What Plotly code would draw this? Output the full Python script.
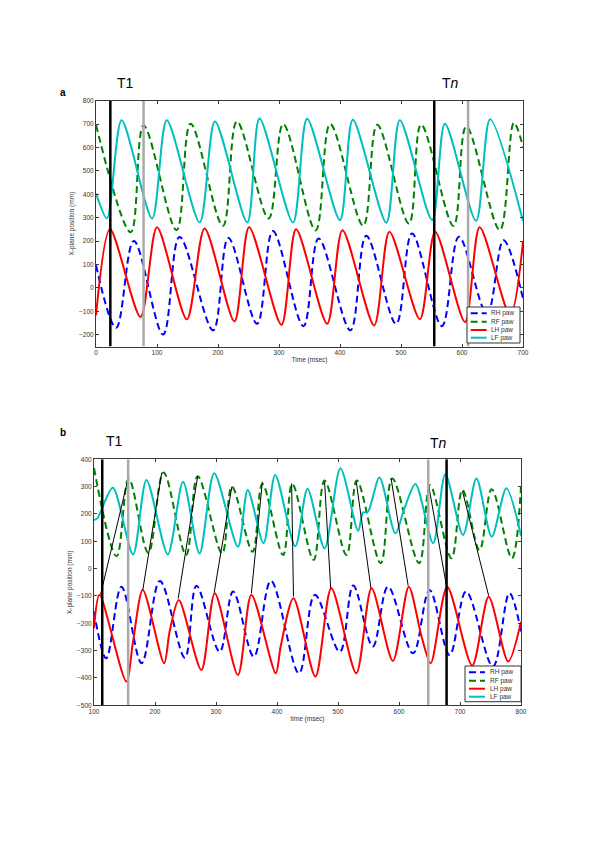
import plotly.graph_objects as go

W, H = 600, 848

# ---------------- Panel a data (time in msec, position in mm) ----------------
a_rh_t = [0, 33, 62, 110, 137, 192, 217, 264, 290, 340, 365, 417, 443, 492, 518, 567, 595, 641, 668, 700]
a_rh_v = [97, -170, 201, -199, 218, -181, 214, -153, 243, -163, 211, -181, 223, -153, 233, -163, 219, -110, 204, -46]

a_rf_t = [0, 57, 78, 132, 155, 208, 231, 283, 307, 360, 384, 438, 461, 513, 533, 586, 607, 662, 685, 700]
a_rf_v = [697, 238, 695, 247, 702, 265, 711, 297, 700, 246, 700, 266, 697, 275, 698, 265, 690, 247, 705, 603]

a_lh_t = [0, 23, 73, 100, 149, 178, 227, 251, 304, 328, 379, 404, 456, 481, 531, 556, 605, 629, 679, 700]
a_lh_v = [-117, 251, -124, 259, -134, 254, -143, 259, -157, 251, -153, 247, -160, 240, -134, 240, -146, 259, -117, 197]

a_lf_t = [0, 18, 42, 92, 116, 170, 195, 248, 268, 323, 346, 400, 421, 476, 498, 551, 572, 623, 646, 700]
a_lf_v = [404, 298, 716, 297, 716, 280, 711, 280, 724, 280, 723, 290, 719, 279, 717, 290, 702, 287, 721, 286]

a_black_t = [23.5, 554.5]
a_gray_t = [78, 610]

# ---------------- Panel b data ----------------
b_rh_t = [100, 120, 145, 178, 208, 249, 268, 306, 328, 362, 390, 436, 462, 503, 525, 557, 582, 623, 650, 683, 710, 754, 781, 800]
b_rh_v = [-157, -328, -66, -346, -45, -326, -63, -304, -84, -322, -45, -383, -96, -304, -62, -285, -66, -310, -78, -316, -84, -358, -90, -230]

b_rf_t = [100, 137, 157, 189, 214, 251, 270, 310, 326, 360, 376, 410, 425, 460, 478, 514, 531, 570, 589, 633, 651, 686, 704, 732, 752, 785, 800]
b_rf_v = [368, 45, 330, 58, 352, 50, 338, 56, 300, 62, 310, 50, 310, 32, 322, 50, 322, 20, 330, 20, 305, 38, 288, 68, 290, 38, 300]

b_lh_t = [100, 109, 153, 164, 180, 215, 224, 239, 276, 298, 336, 358, 398, 406, 427, 463, 489, 530, 555, 590, 616, 637, 652, 679, 720, 747, 779, 800]
b_lh_v = [-218, -96, -413, -267, -78, -346, -230, -115, -371, -90, -389, -96, -383, -285, -108, -395, -72, -383, -72, -338, -66, -249, -346, -66, -355, -103, -340, -194]

b_lf_t = [100, 106, 112, 131, 164, 186, 221, 246, 273, 297, 336, 352, 378, 397, 430, 450, 478, 504, 533, 541, 549, 568, 594, 609, 627, 656, 676, 705, 727, 752, 776, 800]
b_lf_v = [178, 185, 215, 296, 52, 324, 52, 318, 55, 349, 80, 288, 93, 343, 82, 292, 74, 367, 138, 205, 208, 333, 129, 221, 310, 93, 345, 123, 330, 117, 294, 120]

b_black_t = [113.5, 678]
b_gray_t = [156, 648]

# links LH peak -> RF peak
link_lh_t = [111, 180, 238, 297, 358, 427, 488, 554, 615, 678, 747]
link_lh_v = [-93, -78, -109, -88, -90, -102, -72, -72, -62, -66, -99]
link_rf_t = [156, 211, 270, 326, 376, 424, 478, 530, 587, 649, 704]
link_rf_v = [330, 351, 339, 300, 318, 312, 318, 318, 330, 300, 284]

series_names = ["RH paw", "RF paw", "LH paw", "LF paw"]
series_colors = ["#0000FF", "#008000", "#FF0000", "#00BFBF"]
series_dash = ["7px,4px", "7px,4px", "solid", "solid"]
series_smooth = [1.0, 1.0, 0.8, 0.8]

a_range_x = [0, 700]
a_range_y = [-250, 800]
b_range_x = [100, 800]
b_range_y = [-500, 400]

FONT = "Liberation Sans, Arial, sans-serif"

fig = go.Figure()

def add_panel(data, xa, ya):
    for (t, v), name, col, dash, sm in zip(data, series_names, series_colors, series_dash, series_smooth):
        fig.add_trace(go.Scatter(x=t, y=v, mode="lines", name=name, showlegend=False,
                                 line=dict(color=col, width=2, dash=dash, shape="spline", smoothing=sm),
                                 xaxis=xa, yaxis=ya, hoverinfo="skip"))

add_panel([(a_rh_t, a_rh_v), (a_rf_t, a_rf_v), (a_lh_t, a_lh_v), (a_lf_t, a_lf_v)], "x", "y")
add_panel([(b_rh_t, b_rh_v), (b_rf_t, b_rf_v), (b_lh_t, b_lh_v), (b_lf_t, b_lf_v)], "x2", "y2")

# link lines (panel b)
lx, ly = [], []
for t1, v1, t2, v2 in zip(link_lh_t, link_lh_v, link_rf_t, link_rf_v):
    lx += [t1, t2, None]
    ly += [v1, v2, None]
fig.add_trace(go.Scatter(x=lx, y=ly, mode="lines", line=dict(color="black", width=1),
                         xaxis="x2", yaxis="y2", showlegend=False, hoverinfo="skip"))

def vlines(ts, yr, col, xa, ya):
    xs, ys = [], []
    for t in ts:
        xs += [t, t, None]
        ys += [yr[0], yr[1], None]
    fig.add_trace(go.Scatter(x=xs, y=ys, mode="lines", line=dict(color=col, width=2.5),
                             xaxis=xa, yaxis=ya, showlegend=False, hoverinfo="skip"))

vlines(a_gray_t, a_range_y, "#AAAAAA", "x", "y")
vlines(a_black_t, a_range_y, "#000000", "x", "y")
vlines(b_gray_t, b_range_y, "#AAAAAA", "x2", "y2")
vlines(b_black_t, b_range_y, "#000000", "x2", "y2")

axis_common = dict(showline=True, linecolor="#3a3a3a", linewidth=1, mirror="allticks",
                   ticks="inside", ticklen=3, tickcolor="#3a3a3a", showgrid=False, zeroline=False,
                   automargin=False,
                   tickfont=dict(family=FONT, size=6.5, color="#333333"))
tfont = dict(family=FONT, size=6.5, color="#333333")

fig.update_layout(
    template="none",
    width=W, height=H, margin=dict(l=0, r=0, t=0, b=0, pad=0),
    paper_bgcolor="white", plot_bgcolor="white",
    xaxis=dict(domain=[96 / W, 523 / W], range=a_range_x, dtick=100, anchor="y",
               title=dict(text="Time (msec)", font=tfont, standoff=2), **axis_common),
    yaxis=dict(domain=[1 - 346.5 / H, 1 - 100.7 / H], range=a_range_y, tick0=-200, dtick=100, anchor="x",
               title=dict(text="X-plane position (mm)", font=tfont, standoff=3), **axis_common),
    xaxis2=dict(domain=[94 / W, 521 / W], range=b_range_x, dtick=100, anchor="y2",
                title=dict(text="time (msec)", font=tfont, standoff=2), **axis_common),
    yaxis2=dict(domain=[1 - 705.3 / H, 1 - 459.3 / H], range=b_range_y, dtick=100, anchor="x2",
                title=dict(text="X-plane position (mm)", font=tfont, standoff=3), **axis_common),
)

ann = []
shapes = []
def label(x, y, text, size, bold=False):
    ann.append(dict(x=x / W, y=1 - y / H, xref="paper", yref="paper", text=("<b>%s</b>" % text) if bold else text,
                    showarrow=False, font=dict(family=FONT, size=size, color="black"),
                    xanchor="center", yanchor="middle"))

label(63, 92, "a", 10, bold=True)
label(125, 83, "T1", 14)
label(450, 83, "T<i>n</i>", 14)
label(63, 432, "b", 10, bold=True)
label(114, 440.5, "T1", 14)
label(438, 443.5, "T<i>n</i>", 14)

def legend(x0, y0, x1, y1, rows, lx0, lx1, tx):
    shapes.append(dict(type="rect", xref="paper", yref="paper", x0=x0 / W, x1=x1 / W,
                       y0=1 - y1 / H, y1=1 - y0 / H, line=dict(color="#333", width=1), fillcolor="white"))
    for yy, name, col, dash in zip(rows, series_names, series_colors, series_dash):
        shapes.append(dict(type="line", xref="paper", yref="paper", x0=lx0 / W, x1=lx1 / W,
                           y0=1 - yy / H, y1=1 - yy / H, line=dict(color=col, width=2, dash=dash)))
        ann.append(dict(x=tx / W, y=1 - yy / H, xref="paper", yref="paper", text=name, showarrow=False,
                        xanchor="left", yanchor="middle", font=dict(family=FONT, size=6.5, color="#333")))

legend(467, 307, 520, 343, [313.3, 321.7, 330, 337.7], 470.7, 486.7, 488.5)
legend(465, 666, 521, 701.7, [672.3, 680.7, 688.7, 696.7], 469, 485, 487.5)

fig.update_layout(annotations=ann, shapes=shapes)
fig.write_html("out.html", config={"displayModeBar": False, "staticPlot": True},
               post_script="document.body.style.margin='0';document.body.style.padding='0';")
